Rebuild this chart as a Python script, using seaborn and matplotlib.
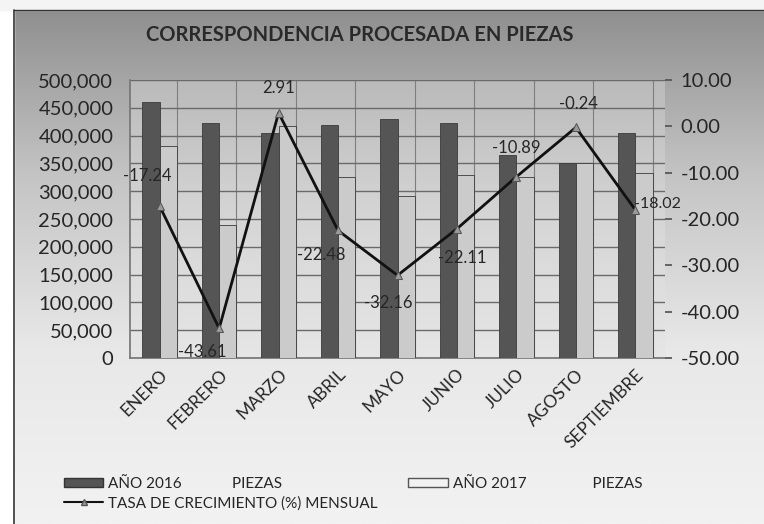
import numpy as np
import pandas as pd
import matplotlib
matplotlib.use("Agg")
import matplotlib.pyplot as plt
import seaborn as sns
from matplotlib.patches import Patch
from matplotlib.lines import Line2D
from matplotlib.ticker import FuncFormatter

# ─── Data ─────────────────────────────────────────────────────────────────────
meses = ["ENERO", "FEBRERO", "MARZO", "ABRIL", "MAYO", "JUNIO",
         "JULIO", "AGOSTO", "SEPTIEMBRE"]
piezas_2016 = [460000, 423000, 405000, 419000, 430000, 423000, 365000, 351000, 405000]
piezas_2017 = [381000, 239000, 417000, 325000, 292000, 330000, 325000, 350000, 332000]
tasa = [-17.24, -43.61, 2.91, -22.48, -32.16, -22.11, -10.89, -0.24, -18.02]

serie_2016 = "AÑO 2016             PIEZAS"
serie_2017 = "AÑO 2017                 PIEZAS"
serie_tasa = "TASA DE CRECIMIENTO (%) MENSUAL"

df = pd.DataFrame({
    "mes": meses * 2,
    "piezas": piezas_2016 + piezas_2017,
    "serie": [serie_2016] * len(meses) + [serie_2017] * len(meses),
})
df_tasa = pd.DataFrame({"mes": meses, "tasa": tasa})

sns.set_theme(style="white")
plt.rcParams["font.family"] = ["Lato", "DejaVu Sans"]
TXT = "#262626"

fig = plt.figure(figsize=(7.64, 5.24), dpi=100)

# figure background gradient (darker top, lighter bottom)
bg = fig.add_axes([0, 0, 1, 1], zorder=-10)
grad = np.linspace(0, 1, 256).reshape(-1, 1)
bg.imshow(grad, cmap=matplotlib.colors.LinearSegmentedColormap.from_list(
    "bg", ["#8c8c8c", "#c4c4c4", "#e8e8e8", "#f2f2f2"]), aspect="auto",
    extent=[0, 1, 0, 1], origin="upper")
bg.set_xlim(0, 1)
bg.set_ylim(0, 1)
bg.axis("off")
# white strip + frame
bg.fill_between([0, 14 / 764], 0, 1, color="white", zorder=2)
bg.fill_between([0, 1], 1 - 10 / 524, 1, color="#f4f4f4", zorder=2)
bg.plot([14 / 764, 14 / 764], [0, 1 - 10 / 524], color="#333333", lw=1.2, zorder=3)
bg.plot([14 / 764, 1], [1 - 10 / 524, 1 - 10 / 524], color="#333333", lw=1.0, zorder=3)

ax = fig.add_axes([130 / 764, 1 - 358 / 524, 535 / 764, 278 / 524])
ax.patch.set_alpha(0)

sns.barplot(data=df, x="mes", y="piezas", hue="serie",
            palette=["#555555", "#cbcbcb"], width=0.58, saturation=1,
            edgecolor="#3a3a3a", linewidth=0.6, ax=ax, legend=False, zorder=3)

# plot area gradient
ax.imshow(grad, cmap=matplotlib.colors.LinearSegmentedColormap.from_list(
    "pa", ["#bababa", "#d6d6d6", "#e6e6e6"]), aspect="auto",
    extent=[-0.5, len(meses) - 0.5, 0, 500000], origin="upper", zorder=0)

ax.set_xlim(-0.5, len(meses) - 0.5)
ax.set_ylim(0, 500000)
ax.set_yticks(np.arange(0, 500001, 50000))
ax.yaxis.set_major_formatter(FuncFormatter(lambda v, p: f"{int(v):,}"))
ax.set_xticks(np.arange(len(meses)) + 0.29, minor=True)
ax.grid(axis="y", which="major", color="#6a6a6a", lw=1.0, zorder=1)
ax.grid(axis="x", which="minor", color="#7e7e7e", lw=0.8, zorder=1)
ax.set_axisbelow(True)
ax.set_xlabel("")
ax.set_ylabel("")
ax.tick_params(axis="y", labelsize=14.5, labelcolor=TXT, length=0, pad=12)
ax.tick_params(axis="x", which="major", labelsize=12.5, labelcolor=TXT, length=0, pad=6)
ax.tick_params(axis="x", which="minor", length=0)
plt.setp(ax.get_xticklabels(), rotation=45, ha="right", rotation_mode="anchor")
for s in ["top", "right"]:
    ax.spines[s].set_visible(False)
ax.spines["left"].set_color("#777777")
ax.spines["bottom"].set_color("#777777")

# growth rate on secondary axis
ax2 = ax.twinx()
sns.lineplot(data=df_tasa, x="mes", y="tasa", color="#111111", lw=2.0,
             marker="^", markersize=6, markerfacecolor="#9a9a9a",
             markeredgecolor="#555555", ax=ax2, zorder=5)
ax2.set_ylim(-50, 10)
ax2.set_yticks(np.arange(-50, 10.1, 10))
ax2.yaxis.set_major_formatter(FuncFormatter(lambda v, p: f"{v:.2f}"))
ax2.tick_params(axis="y", labelsize=14.5, labelcolor=TXT, length=5, color="#555555", pad=6)
ax2.set_ylabel("")
ax2.set_xlabel("")
for s in ax2.spines.values():
    s.set_visible(False)

offsets = [(-9, 22), (-12, -17), (0, 18), (-12, -18), (-7, -20),
           (4, -21), (0, 21), (2, 17), (16, 4)]
for i, (v, off) in enumerate(zip(tasa, offsets)):
    ax2.annotate(f"{v:.2f}", (i, v), xytext=off, textcoords="offset points",
                 ha="center", va="center", fontsize=12 if i < 8 else 11.5,
                 color=TXT, zorder=6)

fig.text(0.471, 1 - 35 / 524, "CORRESPONDENCIA PROCESADA EN PIEZAS",
         ha="center", va="center", fontsize=14.5, fontweight="bold", color="#2a2a2a")

handles = [
    Patch(facecolor="#555555", edgecolor="#333333", label=serie_2016),
    Line2D([0], [0], color="#111111", lw=1.5, marker="^", markersize=5,
           markerfacecolor="#9a9a9a", markeredgecolor="#555555", label=serie_tasa),
    Patch(facecolor="#f2f2f2", edgecolor="#555555", label=serie_2017),
]
fig.legend(handles=handles, ncol=2, loc="upper left",
           bbox_to_anchor=(50 / 764, 1 - 463 / 524), frameon=False,
           fontsize=11, handlelength=2.6, handleheight=0.6, handletextpad=0.3,
           columnspacing=2.0, labelspacing=0.35, labelcolor=TXT)

fig.savefig("out.png", dpi=100)
